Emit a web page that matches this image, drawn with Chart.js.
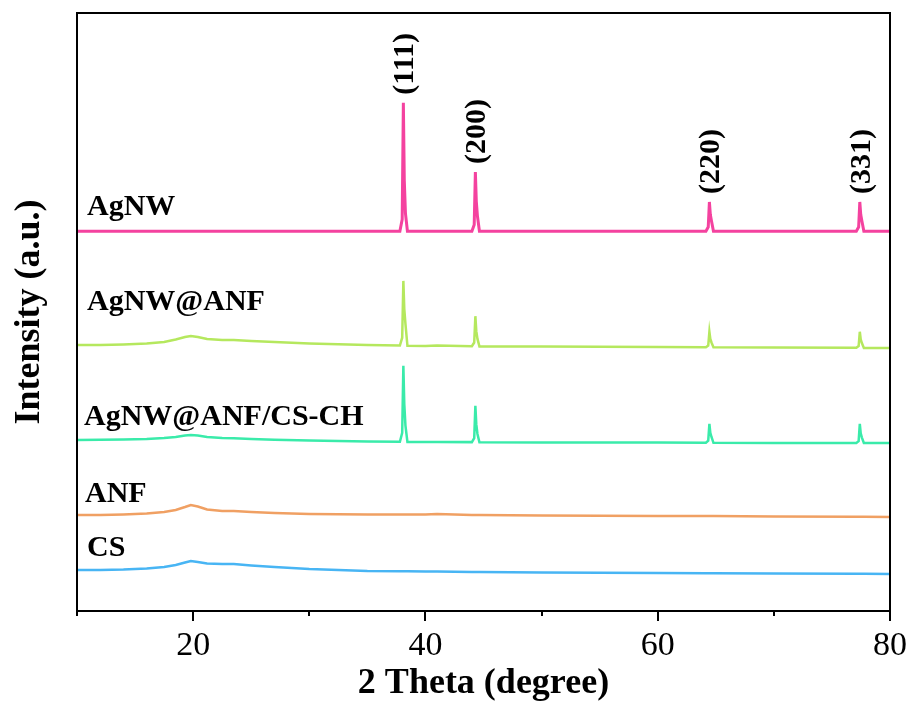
<!DOCTYPE html>
<html>
<head>
<meta charset="utf-8">
<script src="https://cdn.jsdelivr.net/npm/chart.js@4.4.0/dist/chart.umd.min.js"></script>
<style>
html,body{margin:0;padding:0;background:#fff;overflow:hidden}
#wrap{width:913px;height:702px;position:relative}
</style>
</head>
<body>
<div id="wrap"><canvas id="c" width="913" height="702"></canvas></div>
<script>
// 2θ sampling positions (degree)
const theta = [10, 12, 14, 16, 17.5, 18.5, 19.3, 19.8, 20.4, 21.2, 22.5, 23.5, 25, 27, 30, 35,
  37.8, 38.0, 38.1, 38.18, 38.28, 38.45, 40, 41,
  44.0, 44.2, 44.3, 44.38, 44.48, 44.65, 50, 60,
  64.15, 64.35, 64.45, 64.53, 64.63, 64.8, 70,
  77.1, 77.3, 77.4, 77.48, 77.58, 77.75, 80];

const seriesNames = ['AgNW', 'AgNW@ANF', 'AgNW@ANF/CS-CH', 'ANF', 'CS'];

// intensities (a.u., stacked/offset as in the figure)
const agnw = [63.5, 63.5, 63.5, 63.5, 63.5, 63.5, 63.5, 63.5, 63.5, 63.5, 63.5, 63.5, 63.5, 63.5, 63.5, 63.5,
  63.5, 65.5, 85.0, 72.0, 66.5, 63.5, 63.5, 63.5,
  63.5, 64.6, 73.4, 68.5, 66.0, 63.5, 63.5, 63.5,
  63.5, 64.2, 68.4, 66.3, 65.2, 63.5, 63.5,
  63.5, 64.2, 68.4, 66.3, 65.2, 63.5, 63.5];

const agnwAnf = [44.48, 44.48, 44.57, 44.73, 44.98, 45.40, 45.82, 45.99, 45.82, 45.48, 45.32, 45.32, 45.15, 44.98, 44.73, 44.48,
  44.40, 45.7, 55.2, 50.5, 48.0, 44.35, 44.31, 44.40,
  44.27, 44.9, 49.3, 46.8, 45.5, 44.25, 44.23, 44.15,
  44.12, 44.4, 46.7, 45.5, 44.9, 44.1, 44.06,
  44.02, 44.3, 46.7, 45.4, 44.8, 44.0, 43.98];

const agnwAnfCsCh = [28.60, 28.62, 28.68, 28.76, 28.93, 29.10, 29.35, 29.43, 29.35, 29.10, 28.93, 28.90, 28.76, 28.65, 28.51, 28.34,
  28.30, 29.8, 41.0, 34.6, 31.0, 28.28, 28.26, 28.26,
  28.24, 28.9, 34.3, 31.2, 29.6, 28.2, 28.18, 28.18,
  28.15, 28.5, 31.3, 29.8, 29.1, 28.12, 28.09,
  28.09, 28.4, 31.3, 29.7, 29.0, 28.09, 28.09];

const anf = [16.05, 16.05, 16.14, 16.30, 16.56, 16.89, 17.39, 17.73, 17.47, 16.97, 16.72, 16.72, 16.56, 16.39, 16.22, 16.14,
  16.14, 16.14, 16.14, 16.14, 16.14, 16.14, 16.14, 16.22,
  16.06, 16.06, 16.06, 16.06, 16.06, 16.06, 15.97, 15.89,
  15.87, 15.87, 15.87, 15.87, 15.87, 15.87, 15.80,
  15.74, 15.74, 15.74, 15.74, 15.74, 15.74, 15.72];

const cs = [6.86, 6.86, 6.94, 7.11, 7.36, 7.69, 8.11, 8.36, 8.19, 7.94, 7.86, 7.86, 7.61, 7.36, 7.02, 6.69,
  6.63, 6.63, 6.63, 6.63, 6.63, 6.63, 6.61, 6.60,
  6.54, 6.54, 6.54, 6.54, 6.54, 6.54, 6.44, 6.35,
  6.33, 6.33, 6.33, 6.33, 6.33, 6.33, 6.27,
  6.21, 6.21, 6.21, 6.21, 6.21, 6.21, 6.19];

const peakTheta = [38.1, 44.3, 64.45, 77.4];
const peakLabels = ['(111)', '(200)', '(220)', '(331)'];
const majorTicks = [20, 40, 60, 80];

const seriesValues = [agnw, agnwAnf, agnwAnfCsCh, anf, cs];
const seriesColors = ['#F4429F', '#B5E85E', '#3AEBAA', '#F0A063', '#48B5F4'];
const seriesWidths = [3, 2.5, 2.5, 2.5, 2.5];

// label placement (pixels): left inset and height of text baseline above the trace start
const labelPlacement = [
  {dx: 10, dy: 16},
  {dx: 10, dy: 35},
  {dx: 7, dy: 15},
  {dx: 8, dy: 13},
  {dx: 10, dy: 14}
];

const SERIF = '"Liberation Serif", "Times New Roman", serif';

const decor = {
  id: 'decor',
  afterDatasetsDraw(chart) {
    const {ctx, chartArea: a, scales: {x, y}} = chart;
    ctx.save();
    ctx.strokeStyle = '#000';
    ctx.lineWidth = 2;
    ctx.strokeRect(a.left, a.top, a.right - a.left, a.bottom - a.top);
    x.ticks.forEach(t => {
      const px = Math.round(x.getPixelForValue(t.value));
      const major = majorTicks.includes(t.value);
      ctx.beginPath();
      ctx.moveTo(px, a.bottom);
      ctx.lineTo(px, a.bottom + (major ? 10 : 5));
      ctx.stroke();
    });
    ctx.fillStyle = '#000';
    ctx.font = 'bold 30px ' + SERIF;
    ctx.textAlign = 'left';
    ctx.textBaseline = 'alphabetic';
    seriesNames.forEach((n, i) => {
      const base = y.getPixelForValue(seriesValues[i][0]);
      ctx.fillText(n, a.left + labelPlacement[i].dx, base - labelPlacement[i].dy);
    });
    peakTheta.forEach((p, i) => {
      const idx = theta.indexOf(p);
      const py = y.getPixelForValue(agnw[idx]);
      const px = x.getPixelForValue(p);
      ctx.save();
      ctx.translate(px + 10, py - 8);
      ctx.rotate(-Math.PI / 2);
      ctx.fillText(peakLabels[i], 0, 0);
      ctx.restore();
    });
    ctx.restore();
  }
};

const datasets = seriesNames.map((n, i) => ({
  label: n,
  data: theta.map((t, k) => ({x: t, y: seriesValues[i][k]})),
  borderColor: seriesColors[i],
  backgroundColor: seriesColors[i],
  borderWidth: seriesWidths[i],
  pointRadius: 0,
  tension: 0,
  fill: false
}));

new Chart(document.getElementById('c'), {
  type: 'line',
  data: {datasets},
  options: {
    responsive: false,
    animation: false,
    devicePixelRatio: 1,
    layout: {padding: {top: 13, right: 23, left: 0, bottom: 0}},
    plugins: {legend: {display: false}, tooltip: {enabled: false}},
    scales: {
      x: {
        type: 'linear',
        min: 10, max: 80,
        afterFit(s) { s.height = 91; s.paddingLeft = 0; s.paddingRight = 0; },
        grid: {display: true, drawOnChartArea: false, drawTicks: false, color: 'rgba(0,0,0,0)'},
        border: {display: false},
        ticks: {
          stepSize: 10,
          autoSkip: false,
          maxRotation: 0,
          padding: 15,
          color: '#000',
          font: {family: SERIF, size: 34},
          callback: v => majorTicks.includes(v) ? String(v) : ''
        },
        title: {
          display: true,
          text: '2 Theta (degree)',
          color: '#000',
          font: {family: SERIF, size: 36, weight: 'bold', lineHeight: 1},
          padding: {top: 0, bottom: 0}
        }
      },
      y: {
        min: 0, max: 100,
        afterFit(s) { s.width = 77; },
        grid: {display: false},
        border: {display: false},
        ticks: {display: false},
        title: {
          display: true,
          text: 'Intensity (a.u.)',
          color: '#000',
          font: {family: SERIF, size: 36, weight: 'bold', lineHeight: 1},
          padding: {top: 12, bottom: 0}
        }
      }
    }
  },
  plugins: [decor]
});
</script>
</body>
</html>
